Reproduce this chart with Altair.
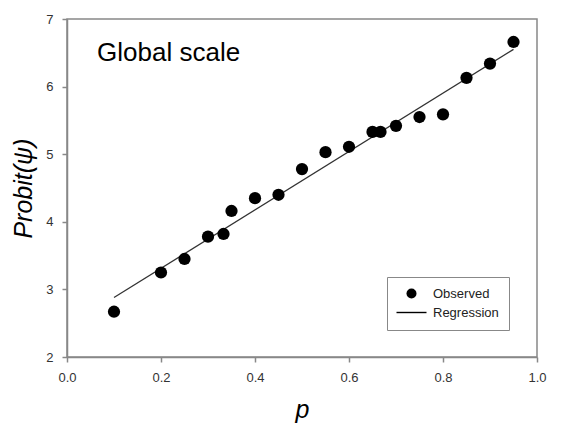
import altair as alt
import pandas as pd

# ---- data ----
p_obs = [0.10, 0.20, 0.25, 0.30, 0.333, 0.35, 0.40, 0.45, 0.50, 0.55,
         0.60, 0.65, 0.667, 0.70, 0.75, 0.80, 0.85, 0.90, 0.95]
probit_obs = [2.67, 3.25, 3.45, 3.78, 3.82, 4.16, 4.35, 4.40, 4.78, 5.03,
              5.11, 5.33, 5.33, 5.42, 5.55, 5.59, 6.13, 6.34, 6.66]

reg_p = [0.10, 0.95]
reg_probit = [2.88, 6.55]

x_ticks = [0.0, 0.2, 0.4, 0.6, 0.8, 1.0]
y_ticks = [2, 3, 4, 5, 6, 7]
series_names = ["Observed", "Regression"]

note_label = ["Global scale"]
note_p = [0.064]
note_probit = [6.38]

FONT = "Liberation Sans"

obs = pd.DataFrame({"p": p_obs, "probit": probit_obs, "series": series_names[0]})
reg = pd.DataFrame({"p": reg_p, "probit": reg_probit})
note = pd.DataFrame({"p": note_p, "probit": note_probit, "label": note_label})

x_enc = alt.X(
    "p:Q",
    scale=alt.Scale(domain=[0, 1], nice=False, zero=False),
    axis=alt.Axis(values=x_ticks, format=".1f", title="p", labelFlush=False),
)
y_enc = alt.Y(
    "probit:Q",
    scale=alt.Scale(domain=[2, 7], nice=False, zero=False),
    axis=alt.Axis(values=y_ticks, format="d", title="Probit(ψ)", labelFlush=False),
)

line = alt.Chart(reg).mark_line(color="#333333", strokeWidth=1.3).encode(x=x_enc, y=y_enc)

# legend symbol for the regression line: a thin filled bar shaped like a line
line_symbol = "M-3,-0.14H3V0.14H-3Z"

pts = alt.Chart(obs).mark_point(
    filled=True, size=150, color="black", opacity=1
).encode(
    x=x_enc,
    y=y_enc,
    shape=alt.Shape(
        "series:N",
        scale=alt.Scale(domain=series_names, range=["circle", line_symbol]),
        legend=alt.Legend(
            title=None,
            orient="none",
            legendX=320,
            legendY=258,
            padding=10,
            strokeColor="#888888",
            fillColor="white",
            labelFont=FONT,
            labelFontSize=13,
            labelColor="#222222",
            symbolSize=100,
            symbolOffset=8,
            labelOffset=15,
            rowPadding=4,
            symbolFillColor="#111111",
            cornerRadius=0,
        ),
    ),
)

txt = alt.Chart(note).mark_text(
    align="left", baseline="alphabetic", fontSize=26, font=FONT, color="black"
).encode(x="p:Q", y="probit:Q", text="label:N")

chart = (
    alt.layer(line, pts, txt)
    .properties(
        width=470,
        height=338,
        autosize=alt.AutoSizeParams(type="none"),
        padding={"left": 67, "top": 19, "right": 26, "bottom": 68},
        background="white",
    )
    .configure_view(stroke="#888888", strokeWidth=1.5)
    .configure_axis(
        grid=False,
        domainColor="#888888",
        domainWidth=1.5,
        tickColor="#888888",
        tickWidth=1.5,
        tickSize=5,
        labelFont=FONT,
        labelFontSize=13,
        labelColor="#333333",
        labelPadding=9,
        titleFont=FONT,
        titleFontSize=25,
        titleFontStyle="italic",
        titleFontWeight="normal",
        titleColor="black",
    )
    .configure_axisX(titlePadding=13)
    .configure_axisY(titlePadding=9)
)

chart.save("out.html", embed_options={"renderer": "svg", "actions": False})
